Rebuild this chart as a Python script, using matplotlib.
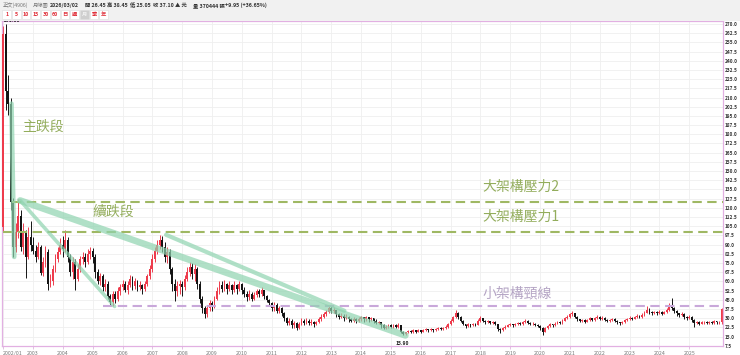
import matplotlib
matplotlib.use("Agg")
import matplotlib.pyplot as plt
from matplotlib.patches import Rectangle
import numpy as np

plt.rcParams["font.family"] = ["Noto Sans CJK TC", "DejaVu Sans"]

# monthly candles 2002/01 .. 2026/03 (open = previous close)
first_open = 104.0
closes = [
    262, 215, 205, 125, 88, 100, 113, 88, 100, 80, 96, 90,                      # 2002
    85, 80, 88, 67, 76, 84, 58, 60, 70, 78, 84, 90,                             # 2003
    86, 94, 80, 68, 76, 62, 70, 78, 80, 76, 82, 85,                             # 2004
    80, 68, 60, 64, 55, 58, 48, 43, 50, 46, 52, 55,                             # 2005
    58, 53, 57, 62, 56, 60, 55, 57, 54, 58, 64, 70,                             # 2006
    78, 85, 90, 94, 88, 80, 84, 70, 58, 52, 56, 58,                             # 2007
    55, 62, 68, 72, 66, 70, 58, 46, 38, 33, 38, 42,                             # 2008
    39, 46, 52, 57, 54, 58, 54, 57, 53, 57, 54, 58,                             # 2009
    53, 50, 47, 50, 46, 49, 52, 50, 53, 48, 45, 42,                             # 2010
    38, 41, 36, 38, 34, 30, 26, 28, 24, 26, 22, 25,                             # 2011
    28, 26, 28, 26, 27, 25, 27, 29, 31, 33, 35, 38,                             # 2012
    36, 37, 33, 31, 32, 30, 31, 29, 28, 29, 28, 29,                             # 2013
    31, 29, 31, 29, 30, 28, 26, 27, 24, 22, 23, 24,                             # 2014
    23, 24, 23, 24, 19, 17, 18.5, 19.5, 18.5, 20, 19, 20,                       # 2015
    19, 20, 21, 20, 21, 20, 21, 22, 21, 22, 23, 25,                             # 2016
    28, 31, 34, 31, 28, 25, 23.5, 25, 24, 25, 24.5, 28,                         # 2017
    30, 28, 26.5, 27.5, 26, 27, 25, 21, 20, 22, 23, 24,                         # 2018
    25, 24, 25, 26, 25, 27, 28, 26, 25, 25.5, 24.5, 23.5,                       # 2019
    22, 19, 22, 23.5, 25, 24, 25.5, 27, 26, 28, 30, 31,                         # 2020
    33, 34, 31, 29, 27.5, 28.5, 27, 28.5, 30, 28.5, 30, 31,                     # 2021
    29.5, 30.5, 28.5, 27.5, 28.5, 29.5, 28, 26.5, 26, 27, 28.5, 29.5,           # 2022
    30.5, 29.5, 31, 32, 31, 32.5, 34.5, 37, 35, 34, 35, 34,                     # 2023
    35, 33.5, 35, 37, 40, 38.5, 36, 34, 32.5, 33.5, 31, 30,                     # 2024
    31, 28.5, 26, 27, 25.5, 26.5, 27, 26, 27, 26, 27.5, 26.5,                   # 2025
    27.15, 37.10,                                                               # 2026
]
highs = [
    268, 270, 228, 210, 128, 108, 127, 118, 108, 102, 104, 109,
    96, 90, 92, 90, 80, 89, 86, 66, 73, 82, 88, 95,
    97, 102, 96, 82, 80, 78, 74, 81, 84, 83, 86, 88,
    87, 82, 70, 67, 66, 62, 60, 50, 52, 52, 55, 58,
    61, 60, 60, 65, 64, 63, 61, 60, 58, 60, 66, 73,
    82, 88, 94, 98, 97, 92, 88, 86, 72, 62, 60, 61,
    60, 65, 72, 76, 75, 74, 72, 60, 48, 40, 41, 45,
    44, 48, 55, 60, 60, 61, 59, 60, 58, 60, 58, 60,
    59, 55, 52, 53, 51, 51, 54, 54, 55, 53, 49, 46,
    43, 43, 42, 40, 39, 35, 31, 30, 29, 28, 27, 27,
    30, 29, 30, 29, 29, 28, 28, 31, 33, 35, 37, 40,
    40, 39, 37, 34, 34, 33, 33, 32, 30, 31, 30, 31,
    32, 31, 32, 31, 31, 30, 29, 28, 27, 25, 24, 25,
    25, 25, 25, 26, 24, 19.5, 19, 20, 20, 21, 20.5, 21,
    20.5, 21, 22, 21.5, 22, 21.5, 22, 23, 22.5, 23, 24.5, 26,
    29, 32, 36.5, 35, 31.5, 28.5, 25.5, 26, 25.5, 26, 26, 29,
    31.5, 30.5, 28.5, 28.5, 28, 28, 27.5, 25, 22, 23, 24, 25,
    26, 25.5, 26, 27, 26.5, 28, 29, 28.5, 26.5, 26.5, 26, 25,
    24, 22.5, 23, 24.5, 26, 25.5, 26.5, 28, 27.5, 29, 31, 32.5,
    34, 35.5, 34.5, 31.5, 29.5, 29.5, 29, 29.5, 31, 30.5, 31, 32.5,
    31.5, 31.5, 31, 29, 29.5, 30, 30, 28.5, 27, 28, 29, 30.5,
    31.5, 31, 32, 33, 32.5, 34, 36, 39.5, 38, 36, 36, 36,
    36.5, 35.5, 36, 38.5, 42, 46.3, 39, 36.5, 34.5, 35, 34, 32,
    32.5, 31.5, 29, 28, 27.5, 27.5, 28, 27.5, 28, 27.5, 28.5, 28,
    28, 38.45,
]
lows = [
    100, 200, 196, 118, 80, 84, 95, 85, 82, 63, 78, 85,
    82, 76, 78, 65, 64, 72, 53, 55, 57, 68, 76, 82,
    80, 84, 76, 64, 62, 53, 60, 68, 74, 72, 74, 78,
    75, 63, 58, 57, 52, 52, 46, 40, 39.5, 42, 44, 49,
    53, 51, 50, 55, 53, 54, 52, 53, 50, 52, 56, 62,
    68, 76, 82, 86, 84, 76, 75, 66, 52, 44, 48, 50,
    48, 53, 60, 64, 62, 60, 54, 42, 34, 30, 31, 36,
    36, 38, 45, 50, 51, 52, 50, 52, 50, 51, 50, 52,
    50, 47, 44, 45, 44, 45, 47, 47, 48, 46, 43, 40,
    36, 36, 34, 34, 32, 28, 24, 24, 22, 22, 20, 21,
    24, 24, 25, 24, 24, 23, 24, 26, 28, 30, 32, 34,
    34, 34, 31, 29, 30, 28, 29, 27, 27, 27, 26, 27,
    28, 27, 28, 27, 28, 26, 25, 25, 22, 21, 21, 22,
    22, 22, 22, 22, 18, 15.9, 16.5, 17.5, 17.5, 18, 18, 18.5,
    18, 18.5, 19.5, 19, 19.5, 19, 19.5, 20.5, 20, 20.5, 21.5, 22,
    24.5, 27, 30, 29, 26.5, 24, 21.8, 23, 23, 23.5, 23.5, 24,
    27, 26.5, 25.5, 26, 25, 25.5, 24, 19.5, 17.7, 19.5, 21.5, 22.5,
    23.5, 23, 23.5, 24.5, 24, 24.5, 26, 25, 24, 24, 23.5, 22.5,
    20.5, 16.4, 18.5, 21.5, 23, 23, 23.5, 25, 25, 25.5, 27.5, 29,
    30, 31.5, 30, 28, 26.5, 26.5, 26, 26.5, 28, 27.5, 28, 29,
    28.5, 28.5, 27.5, 26.5, 26.5, 27.5, 27, 25.5, 24.5, 25, 26, 27.5,
    28.5, 28.5, 29, 30, 30, 30.5, 32, 34, 33.5, 32.5, 33, 32.5,
    33, 32.5, 33, 34, 36, 37, 34, 32, 31, 31.5, 29.5, 28.5,
    29, 27, 23, 25, 24.5, 25, 25.5, 25, 25.5, 25, 25.5, 25.5,
    25.5, 25.05,
]

year_ticks = ["2002/01"] + [str(y) for y in range(2003, 2026)]
y_ticks = np.arange(7.5, 271, 7.5)

# analyst levels and trend bands (month index, price)
level_big2 = 125.0
level_big1 = 100.5
level_neck = 40.0
band_main = ([3.3, 4.4], [205, 80])
band_cont_a = ([6.8, 161.8], [126, 15.9])
band_cont_b = ([6.8, 44.8], [126, 39.5])
band_cont_c = ([65.5, 137.3], [98, 36])

closes = np.array(closes, dtype=float)
highs = np.array(highs, dtype=float)
lows = np.array(lows, dtype=float)
opens = np.concatenate([[first_open], closes[:-1]])
idx = np.arange(len(closes))

RED = "#ee3b4c"
BLK = "#141414"
GREEN_TXT = "#93ad5c"
GREEN_DASH = "#9fb863"
PURPLE_DASH = "#c9a8da"
PURPLE_TXT = "#b4a4c4"
BAND = "#8fd4b0"

fig = plt.figure(figsize=(7.4, 3.55), dpi=100)
ax = fig.add_axes([2 / 740, 1 - 345.7 / 355, 721 / 740, (345.7 - 20.7) / 355])

# header
fig.patches.append(Rectangle((0, 1 - 20.5 / 355), 1, 20.5 / 355, transform=fig.transFigure,
                             facecolor="#f1f1f1", edgecolor="none", zorder=0))
hy = 1 - 5.5 / 355
def htxt(x, s, bold=False, color="#333333"):
    fig.text(x / 740, hy, s, fontsize=3.8, color=color, va="center",
             fontweight="bold" if bold else "normal")
htxt(3, "正文(4906)", color="#777777")
htxt(33, "月線圖", color="#777777")
htxt(50, "2026/03/02", bold=True)
htxt(85, "開 26.45", bold=True)
htxt(107, "高 38.45", bold=True)
htxt(130, "低 25.05", bold=True)
htxt(153, "收 37.10 ▲ 元", bold=True)
htxt(193, "量 370444 張", bold=True)
htxt(225, "+9.95 (+36.65%)", bold=True)
buttons = ["1", "5", "10", "15", "30", "60", "日", "週", "月", "季", "年"]
for i, b in enumerate(buttons):
    cx = 6.7 + i * 9.7
    sel = b == "月"
    fig.patches.append(Rectangle(((cx - 4.3) / 740, 1 - 18.5 / 355), 8.6 / 740, 8.5 / 355,
                                 transform=fig.transFigure,
                                 facecolor="#cfcfcf" if sel else "white",
                                 edgecolor="#dddddd", lw=0.4))
    fig.text(cx / 740, 1 - 14.3 / 355, b, fontsize=3.8, color="#f4f4f4" if sel else "#e0303a",
             ha="center", va="center", fontweight="bold")

# grid
for v in y_ticks:
    ax.axhline(v, color="#efefef", lw=0.6, zorder=0)
for k in range(len(year_ticks)):
    ax.axvline(k * 12, color="#efefef", lw=0.6, zorder=0)

# candles
up = closes >= opens
cols = np.where(up, RED, BLK)
ax.vlines(idx, lows, highs, colors=cols, lw=0.7, zorder=2)
body_lo = np.minimum(opens, closes)
body_h = np.maximum(np.abs(closes - opens), 0.35)
ax.bar(idx, body_h, bottom=body_lo, width=0.75, color=cols, lw=0, zorder=3)

# level lines
xr = len(closes) - 0.4
ax.hlines(level_big2, 3.6, xr, color=GREEN_DASH, lw=1.5, linestyles=(0, (4.5, 2.6)), zorder=4)
ax.hlines(level_big1, 0, xr, color=GREEN_DASH, lw=1.5, linestyles=(0, (4.5, 2.6)), zorder=4)
ax.hlines(level_neck, 40, xr, color=PURPLE_DASH, lw=1.5, linestyles=(0, (4.5, 2.6)), zorder=4)

# trend bands
ax.plot(*band_main, color=BAND, lw=3.4, alpha=0.7, solid_capstyle="round", zorder=5)
ax.plot(*band_cont_a, color=BAND, lw=4.8, alpha=0.7, solid_capstyle="round", zorder=5)
ax.plot(*band_cont_b, color=BAND, lw=2.6, alpha=0.7, solid_capstyle="round", zorder=5)
ax.plot(*band_cont_c, color=BAND, lw=3.0, alpha=0.7, solid_capstyle="round", zorder=5)

# labels
ax.text(7.6, 186, "主跌段", fontsize=10, color=GREEN_TXT, va="center", ha="left")
ax.text(36.1, 116.6, "續跌段", fontsize=10, color=GREEN_TXT, va="center", ha="left")
ax.text(192.8, 137, "大架構壓力2", fontsize=10, color=GREEN_TXT, va="center", ha="left")
ax.text(192.8, 112.5, "大架構壓力1", fontsize=10, color=GREEN_TXT, va="center", ha="left")
ax.text(192.8, 50.5, "小架構頸線", fontsize=10, color=PURPLE_TXT, va="center", ha="left")

imax = int(np.argmax(highs))
imin = int(np.argmin(lows))
ax.text(imax - 0.6, highs[imax] + 0.6, f"{highs[imax]:.2f}", fontsize=3.6, fontweight="bold",
        color="#222222", ha="left", va="bottom")
ax.text(imin - 0.3, 9.5, f"{lows[imin]:.2f}", fontsize=3.6, fontweight="bold",
        color="#222222", ha="center", va="center")

ax.set_xlim(-0.5, len(closes) - 0.4)
ax.set_ylim(7.5, 272.7)
ax.yaxis.tick_right()
ax.set_yticks(y_ticks)
ax.set_yticklabels([f"{v:.1f}" for v in y_ticks], fontsize=3.4, fontweight="bold", color="#333333")
ax.set_xticks(np.arange(len(year_ticks)) * 12)
ax.set_xticklabels(year_ticks, fontsize=3.8, color="#777777")
ax.get_xticklabels()[0].set_ha("left")
ax.tick_params(axis="y", length=0, pad=1.5)
ax.tick_params(axis="x", length=2, width=0.5, color="#d9a6d9", pad=1.5)
for s in ax.spines.values():
    s.set_color("#e2b0e2")
    s.set_linewidth(0.9)

fig.savefig("out.png", dpi=100, facecolor="white")
